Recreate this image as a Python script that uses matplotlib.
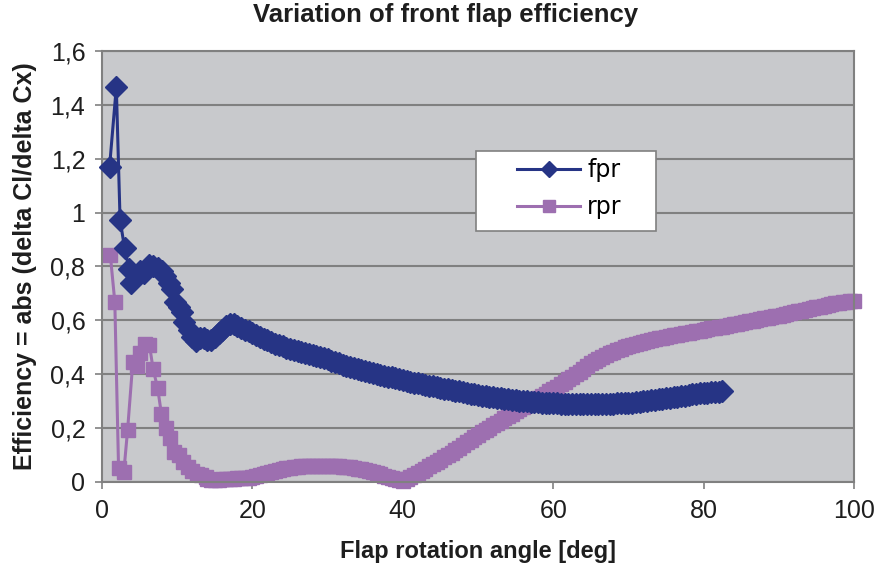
import matplotlib
matplotlib.use('Agg')
import matplotlib.pyplot as plt
from matplotlib.patches import Rectangle
from matplotlib.ticker import FuncFormatter, MultipleLocator

plt.rcParams['font.family'] = ['Liberation Sans', 'DejaVu Sans']

# front flap (fpr) efficiency vs. rotation angle
fpr_angle = [1.0, 1.9, 2.4, 3.0, 3.6, 3.9, 4.5, 5.1, 5.6, 6.2,
             6.8, 7.5, 8.0, 8.4, 8.9, 9.3, 9.7, 10.2, 10.6, 10.9,
             11.5, 12.0, 12.5, 13.0, 13.5, 14.0, 14.5, 15.0, 15.5, 16.0,
             16.5, 17.0, 17.5, 18.0, 18.5, 19.0, 19.5,
             20.0, 20.5, 21.0, 21.5, 22.0, 22.5, 23.0, 23.5, 24.0, 24.5,
             25.0, 25.5, 26.0, 26.5, 27.0, 27.5, 28.0, 28.5, 29.0, 29.5,
             30.0, 30.5, 31.0, 31.5, 32.0, 32.5, 33.0, 33.5, 34.0, 34.5,
             35.0, 35.5, 36.0, 36.5, 37.0, 37.5, 38.0, 38.5, 39.0, 39.5,
             40.0, 40.5, 41.0, 41.5, 42.0, 42.5, 43.0, 43.5, 44.0, 44.5,
             45.0, 45.5, 46.0, 46.5, 47.0, 47.5, 48.0, 48.5, 49.0, 49.5,
             50.0, 50.5, 51.0, 51.5, 52.0, 52.5, 53.0, 53.5, 54.0, 54.5,
             55.0, 55.5, 56.0, 56.5, 57.0, 57.5, 58.0, 58.5, 59.0, 59.5,
             60.0, 60.5, 61.0, 61.5, 62.0, 62.5, 63.0, 63.5, 64.0, 64.5,
             65.0, 65.5, 66.0, 66.5, 67.0, 67.5, 68.0, 68.5, 69.0, 69.5,
             70.0, 70.5, 71.0, 71.5, 72.0, 72.5, 73.0, 73.5, 74.0, 74.5,
             75.0, 75.5, 76.0, 76.5, 77.0, 77.5, 78.0, 78.5, 79.0, 79.5,
             80.0, 80.5, 81.0, 81.5, 82.0, 82.5]
fpr_eff = [1.17, 1.466, 0.973, 0.868, 0.79, 0.74, 0.77, 0.785, 0.775, 0.805,
           0.80, 0.795, 0.785, 0.765, 0.74, 0.715, 0.67, 0.65, 0.63, 0.595,
           0.565, 0.54, 0.522, 0.535, 0.535, 0.528, 0.527, 0.537, 0.552, 0.565,
           0.578, 0.588, 0.585, 0.578, 0.572, 0.566, 0.56,
           0.552, 0.545, 0.538, 0.532, 0.526, 0.520, 0.514, 0.509, 0.504, 0.499,
           0.495, 0.491, 0.487, 0.483, 0.479, 0.475, 0.471, 0.467, 0.463, 0.459,
           0.455, 0.450, 0.445, 0.440, 0.435, 0.430, 0.427, 0.423, 0.419, 0.416,
           0.412, 0.409, 0.405, 0.402, 0.398, 0.395, 0.391, 0.388, 0.385, 0.381,
           0.378, 0.375, 0.372, 0.369, 0.366, 0.363, 0.360, 0.357, 0.355, 0.352,
           0.349, 0.347, 0.344, 0.341, 0.339, 0.336, 0.333, 0.331, 0.328, 0.326,
           0.323, 0.321, 0.319, 0.317, 0.315, 0.313, 0.311, 0.309, 0.307, 0.305,
           0.303, 0.301, 0.300, 0.299, 0.298, 0.297, 0.296, 0.295, 0.294, 0.293,
           0.292, 0.292, 0.291, 0.291, 0.290, 0.290, 0.290, 0.290, 0.290, 0.290,
           0.290, 0.290, 0.290, 0.290, 0.290, 0.291, 0.291, 0.292, 0.292, 0.293,
           0.294, 0.295, 0.296, 0.298, 0.299, 0.301, 0.303, 0.305, 0.307, 0.309,
           0.311, 0.313, 0.315, 0.317, 0.319, 0.321, 0.323, 0.325, 0.327, 0.329,
           0.330, 0.332, 0.333, 0.334, 0.335, 0.336]

# rear flap (rpr) efficiency vs. rotation angle
rpr_angle = [1.1, 1.7, 2.2, 2.9, 3.4, 4.1, 4.6, 5.1, 5.7, 6.3,
             6.8, 7.4, 7.9, 8.5, 9.0, 9.6, 10.2, 10.8, 11.4, 12.0,
             12.6, 13.2, 13.8,
             14.0, 14.5, 15.0, 15.5, 16.0, 16.5, 17.0, 17.5, 18.0, 18.5,
             19.0, 19.5, 20.0, 20.5, 21.0, 21.5, 22.0, 22.5, 23.0, 23.5,
             24.0, 24.5, 25.0, 25.5, 26.0, 26.5, 27.0, 27.5, 28.0, 28.5,
             29.0, 29.5, 30.0, 30.5, 31.0, 31.5, 32.0, 32.5, 33.0, 33.5,
             34.0, 34.5, 35.0, 35.5, 36.0, 36.5, 37.0, 37.5, 38.0, 38.5,
             39.0, 39.5, 40.0, 40.5, 41.0, 41.5, 42.0, 42.5, 43.0, 43.5,
             44.0, 44.5, 45.0, 45.5, 46.0, 46.5, 47.0, 47.5, 48.0, 48.5,
             49.0, 49.5, 50.0, 50.5, 51.0, 51.5, 52.0, 52.5, 53.0, 53.5,
             54.0, 54.5, 55.0, 55.5, 56.0, 56.5, 57.0, 57.5, 58.0, 58.5,
             59.0, 59.5, 60.0, 60.5, 61.0, 61.5, 62.0, 62.5, 63.0, 63.5,
             64.0, 64.5, 65.0, 65.5, 66.0, 66.5, 67.0, 67.5, 68.0, 68.5,
             69.0, 69.5, 70.0, 70.5, 71.0, 71.5, 72.0, 72.5, 73.0, 73.5,
             74.0, 74.5, 75.0, 75.5, 76.0, 76.5, 77.0, 77.5, 78.0, 78.5,
             79.0, 79.5, 80.0, 80.5, 81.0, 81.5, 82.0, 82.5, 83.0, 83.5,
             84.0, 84.5, 85.0, 85.5, 86.0, 86.5, 87.0, 87.5, 88.0, 88.5,
             89.0, 89.5, 90.0, 90.5, 91.0, 91.5, 92.0, 92.5, 93.0, 93.5,
             94.0, 94.5, 95.0, 95.5, 96.0, 96.5, 97.0, 97.5, 98.0, 98.5,
             99.0, 99.5, 100.0]
rpr_eff = [0.843, 0.669, 0.051, 0.038, 0.193, 0.447, 0.43, 0.48, 0.512, 0.51,
           0.418, 0.348, 0.252, 0.20, 0.165, 0.11, 0.10, 0.075, 0.055, 0.04,
           0.03, 0.025, 0.018,
           0.010, 0.008, 0.008, 0.008, 0.010, 0.010, 0.012, 0.012, 0.014, 0.014,
           0.016, 0.016, 0.018, 0.022, 0.026, 0.030, 0.034, 0.038, 0.042, 0.045,
           0.048, 0.051, 0.053, 0.055, 0.057, 0.058, 0.059, 0.060, 0.061, 0.061,
           0.061, 0.061, 0.060, 0.060, 0.059, 0.058, 0.057, 0.056, 0.054, 0.052,
           0.050, 0.047, 0.044, 0.040, 0.036, 0.032, 0.028, 0.024, 0.020, 0.016,
           0.012, 0.008, 0.005, 0.010, 0.018, 0.026, 0.034, 0.042, 0.050, 0.058,
           0.066, 0.074, 0.082, 0.091, 0.100, 0.109, 0.118, 0.128, 0.137, 0.147,
           0.156, 0.166, 0.175, 0.184, 0.193, 0.202, 0.211, 0.220, 0.228, 0.237,
           0.245, 0.254, 0.262, 0.270, 0.278, 0.286, 0.294, 0.302, 0.310, 0.318,
           0.327, 0.336, 0.345, 0.354, 0.363, 0.372, 0.382, 0.391, 0.401, 0.410,
           0.420, 0.430, 0.440, 0.448, 0.456, 0.464, 0.471, 0.478, 0.484, 0.490,
           0.495, 0.500, 0.505, 0.509, 0.513, 0.517, 0.520, 0.524, 0.527, 0.530,
           0.533, 0.536, 0.539, 0.542, 0.544, 0.547, 0.549, 0.552, 0.554, 0.557,
           0.560, 0.562, 0.565, 0.567, 0.570, 0.572, 0.575, 0.577, 0.580, 0.582,
           0.585, 0.588, 0.591, 0.593, 0.596, 0.599, 0.602, 0.604, 0.607, 0.610,
           0.613, 0.615, 0.618, 0.621, 0.624, 0.627, 0.630, 0.633, 0.636, 0.639,
           0.642, 0.645, 0.648, 0.651, 0.654, 0.657, 0.660, 0.663, 0.665, 0.667,
           0.669, 0.671, 0.673]

fpr_color = '#263485'
rpr_color = '#9d6fb0'
gray = '#808080'
ink = '#1e1e1e'

fig = plt.figure(figsize=(8.78, 5.71), dpi=100)
ax = fig.add_axes([0.1162, 0.1559, 0.8565, 0.7548])
ax.set_facecolor('#c8c9cc')

ax.plot(fpr_angle, fpr_eff, color=fpr_color, lw=2.2, marker='D', ms=11.5,
        mec=fpr_color, mfc=fpr_color, label='fpr', zorder=3, clip_on=False)
ax.plot(rpr_angle, rpr_eff, color=rpr_color, lw=2.2, marker='s', ms=9.8,
        mec=rpr_color, mfc=rpr_color, label='rpr', zorder=2, clip_on=False)

ax.set_xlim(0, 100)
ax.set_ylim(0, 1.6)
ax.xaxis.set_major_locator(MultipleLocator(20))
ax.yaxis.set_major_locator(MultipleLocator(0.2))
ax.yaxis.set_major_formatter(FuncFormatter(lambda v, p: f'{round(v, 1):g}'.replace('.', ',')))
ax.grid(axis='y', color=gray, lw=1.5, zorder=1)
ax.set_axisbelow(True)
for s in ax.spines.values():
    s.set_color(gray)
    s.set_linewidth(1.5)
ax.tick_params(axis='both', labelcolor=ink, labelsize=18, length=5,
               width=1.2, pad=7, color=gray)

fig.text(0.508, 0.974, 'Variation of front flap efficiency', ha='center',
         va='center', fontsize=18.5, fontweight='bold', color=ink)
fig.text(0.5445, 0.0333, 'Flap rotation angle [deg]', ha='center',
         va='center', fontsize=17, fontweight='bold', color=ink)
fig.text(0.029, 0.534, 'Efficiency = abs (delta Cl/delta Cx)', rotation=90,
         ha='center', va='center', fontsize=18, fontweight='bold', color=ink)

# legend box drawn separately so the key can sit with a wide left margin
fig.add_artist(Rectangle((476 / 878, 1 - 231 / 571), 180 / 878, 80 / 571,
                         transform=fig.transFigure, facecolor='white',
                         edgecolor=gray, lw=1.2, zorder=4))
h, l = ax.get_legend_handles_labels()
leg = fig.legend(h, l, loc='upper left', bbox_to_anchor=(517 / 878, 1 - 158 / 571),
                 prop={'family': 'DejaVu Sans', 'size': 17}, frameon=False,
                 handlelength=2.67, handletextpad=0.3, borderpad=0,
                 labelspacing=0.55, borderaxespad=0)
leg.set_zorder(5)
for hd in leg.legend_handles:
    hd.set_markersize(8.5)

fig.savefig('out.png', dpi=100)
